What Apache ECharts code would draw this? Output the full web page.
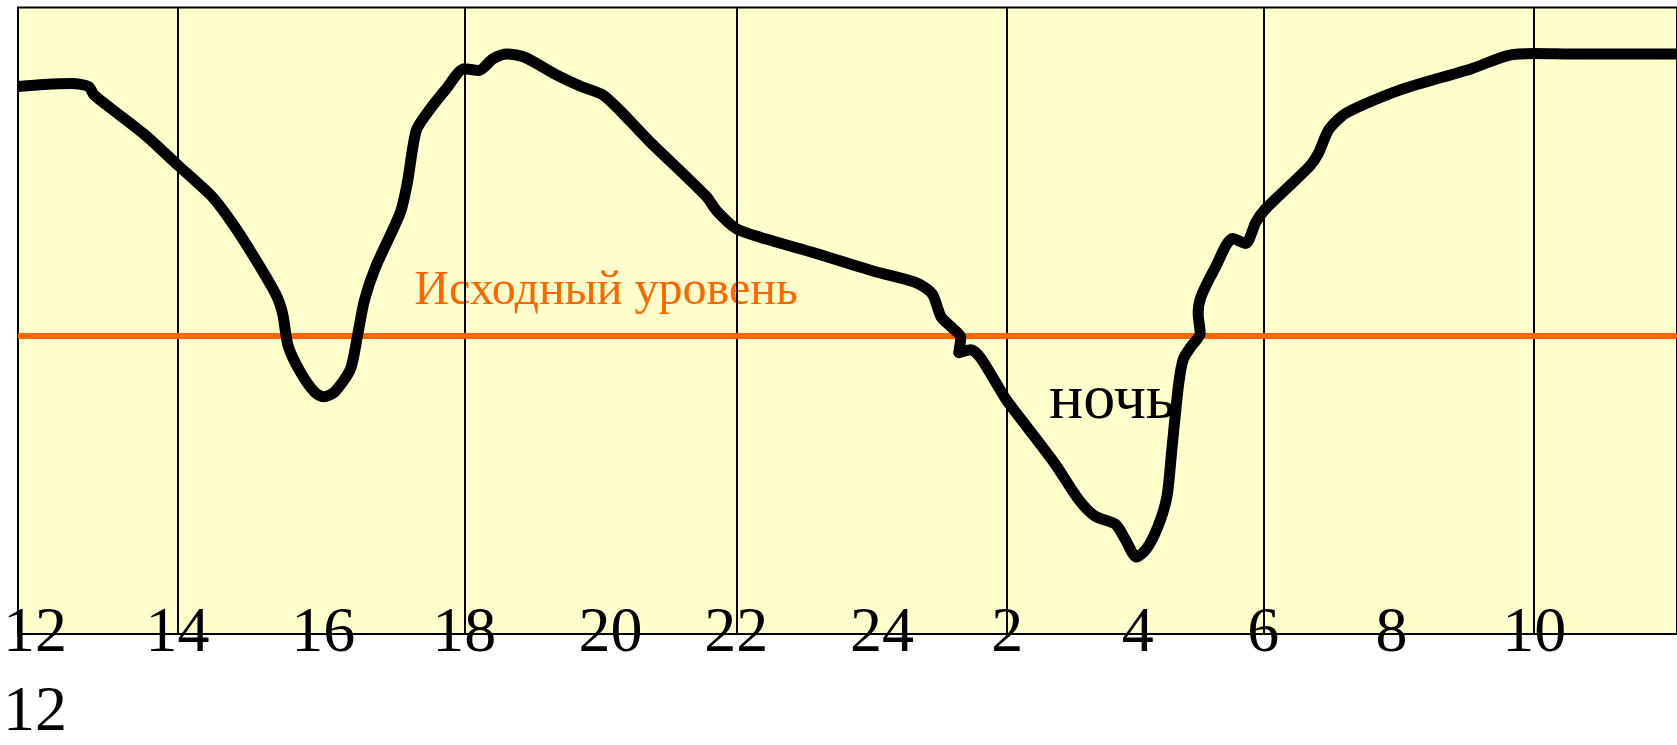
<!DOCTYPE html>
<html>
<head>
<meta charset="utf-8">
<script src="https://cdn.jsdelivr.net/npm/echarts@6/dist/echarts.min.js"></script>
<style>
  html, body { margin: 0; padding: 0; background: #ffffff; overflow: hidden; }
  #chart { width: 1677px; height: 745px; }
</style>
</head>
<body>
<div id="chart"></div>
<script>
// ---- data ----
// x: position along the drawn time axis (hours after 12:00, as drawn)
// y: level relative to the baseline ("Исходный уровень" = 0)
const xTickValues = [-0.10, 2.0, 4.15, 6.23, 8.385, 10.24, 12.39, 14.235, 16.16, 18.01, 19.90, 22.005];
const xTickLabels = ['12', '14', '16', '18', '20', '22', '24', '2', '4', '6', '8', '10'];
const gridLineValues = [2.0, 6.23, 10.24, 14.235, 18.01, 22.005];
const secondRowValues = [-0.10];
const secondRowLabels = ['12'];
const baselineLevel = 0;
const baselineText = 'Исходный уровень';
const baselineTextAt = [8.32, 15.0];
const nightText = 'ночь';
const nightTextAt = [15.78, -21.8];

const curveX = [-0.35, 0.035, 0.454, 0.691, 0.771, 0.978, 1.507, 2.004, 2.503, 2.766, 3.081, 3.449, 3.551, 3.632, 3.816, 4.022, 4.154, 4.316, 4.551, 4.654, 4.757, 4.919, 5.287, 5.390, 5.522, 5.707, 5.969, 6.228, 6.443, 6.654, 6.860, 7.125, 7.596, 7.954, 8.272, 8.532, 8.949, 9.793, 9.949, 10.24, 10.58, 11.32, 12.27, 12.89, 13.13, 13.26, 13.43, 13.55, 13.52, 13.70, 13.85, 14.21, 14.50, 14.94, 15.29, 15.53, 15.83, 15.97, 16.14, 16.29, 16.46, 16.59, 16.66, 16.76, 16.83, 16.95, 17.08, 17.05, 17.09, 17.30, 17.56, 17.75, 17.90, 18.04, 18.69, 18.82, 18.98, 19.24, 20.03, 21.08, 21.61, 22.01, 22.65, 24.11];
const curveY = [83.5, 84.2, 84.5, 83.5, 80.7, 76.9, 67.6, 57.2, 46.8, 39.1, 28.2, 14.0, 7.4, -3.4, -12.3, -18.9, -20.5, -18.9, -11.2, -0.2, 11.8, 22.8, 41.3, 51.2, 68.8, 75.4, 82.9, 89.5, 88.9, 92.8, 94.4, 93.3, 87.3, 83.5, 80.7, 75.3, 65.4, 46.8, 41.9, 35.9, 33.1, 28.2, 21.6, 17.8, 14.0, 6.3, 2.5, -0.5, -5.7, -4.7, -7.7, -21.1, -29.8, -43.0, -55.0, -60.5, -63.2, -68.1, -74.2, -71.4, -63.8, -53.9, -38.6, -16.7, -7.9, -3.5, 0.8, 7.4, 12.9, 22.7, 32.6, 30.9, 38.0, 42.4, 56.7, 61.0, 69.2, 74.7, 82.4, 89.5, 93.9, 94.6, 94.4, 94.4];

const X_MIN = -0.35, X_MAX = 24.11, Y_MIN = -100, Y_MAX = 110;
const SERIF = "'Liberation Serif', 'Times New Roman', 'DejaVu Serif', serif";

function labelFor(values, labels) {
  return function (v) {
    let best = 0, d = Infinity;
    values.forEach((t, i) => { const e = Math.abs(t - v); if (e < d) { d = e; best = i; } });
    return labels[best];
  };
}

const chart = echarts.init(document.getElementById('chart'), null, { renderer: 'canvas', width: 1677, height: 745 });
chart.setOption({
  animation: false,
  backgroundColor: '#ffffff',
  grid: {
    left: 16.7, top: 7.5, width: 1663.3, height: 640.2,
    show: true, backgroundColor: '#FFFFCC', borderColor: '#000000', borderWidth: 2,
    containLabel: false
  },
  xAxis: [
    {
      type: 'value', min: X_MIN, max: X_MAX, position: 'bottom',
      axisLine: { show: false }, axisTick: { show: false }, splitLine: { show: false },
      axisLabel: {
        show: true, customValues: xTickValues, formatter: labelFor(xTickValues, xTickLabels),
        color: '#000000', fontFamily: SERIF, fontSize: 64, verticalAlign: 'middle', margin: 0,
        showMinLabel: true, showMaxLabel: true, hideOverlap: false
      }
    },
    {
      type: 'value', min: X_MIN, max: X_MAX, position: 'bottom', offset: 79,
      axisLine: { show: false }, axisTick: { show: false }, splitLine: { show: false },
      axisLabel: {
        show: true, customValues: secondRowValues, formatter: labelFor(secondRowValues, secondRowLabels),
        color: '#000000', fontFamily: SERIF, fontSize: 64, verticalAlign: 'middle', margin: 0,
        showMinLabel: true, showMaxLabel: true, hideOverlap: false
      }
    }
  ],
  yAxis: {
    type: 'value', min: Y_MIN, max: Y_MAX, show: false
  },
  series: [
    {
      type: 'scatter', z: 1, silent: true, symbolSize: 0,
      itemStyle: { opacity: 1 },
      data: [
        { value: baselineTextAt, label: { formatter: baselineText, color: '#FF6600', fontSize: 48 } },
        { value: nightTextAt, label: { formatter: nightText, color: '#000000', fontSize: 64 } }
      ],
      label: { show: true, position: 'inside', align: 'center', verticalAlign: 'middle', fontFamily: SERIF, opacity: 1 }
    },
    {
      type: 'line', z: 2, silent: true, data: [], symbol: 'none',
      markLine: {
        silent: true, z: 2, symbol: ['none', 'none'], animation: false,
        label: { show: false },
        lineStyle: { color: '#000000', width: 2, type: 'solid', opacity: 1 },
        data: gridLineValues.map(v => ({ xAxis: v }))
      }
    },
    {
      type: 'line', z: 3, silent: true, data: [], symbol: 'none',
      markLine: {
        silent: true, z: 3, symbol: ['none', 'none'], animation: false,
        label: { show: false },
        lineStyle: { color: '#FF6600', width: 6, type: 'solid', opacity: 1 },
        data: [{ yAxis: baselineLevel }]
      }
    },
    {
      type: 'line', z: 4, silent: true, symbol: 'none', smooth: 0.25,
      lineStyle: { color: '#000000', width: 11, cap: 'butt', join: 'round' },
      data: curveX.map((x, i) => [x, curveY[i]])
    }
  ]
});
</script>
</body>
</html>
